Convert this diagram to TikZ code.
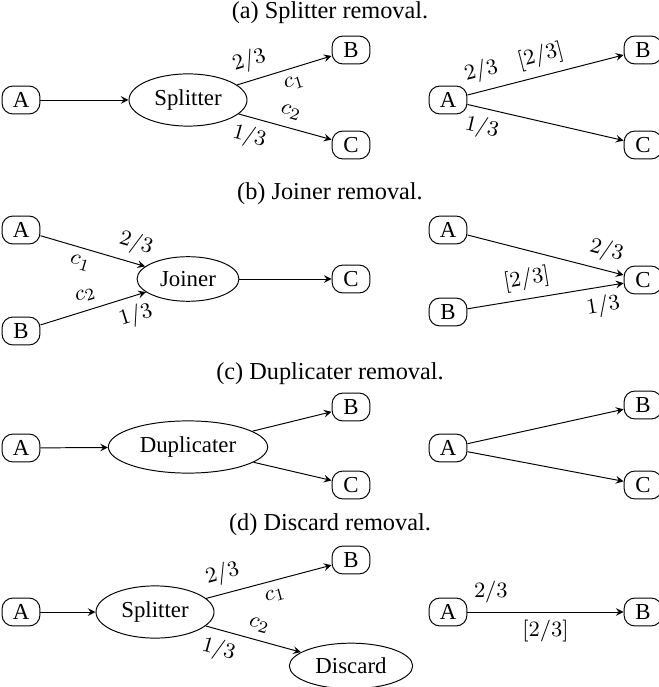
\documentclass[tikz,border=0pt]{standalone}
\usepackage{fontspec}
\setmainfont{Liberation Serif}
\usetikzlibrary{shapes.geometric}

\begin{document}
\begin{tikzpicture}[
    x = 0.4115pt,
    y = -0.4115pt,
    >=stealth,
    font=\fontsize{9.4}{11}\selectfont,
    vertex/.style = {draw, rectangle, rounded corners=4.5pt,
              minimum width=15.6pt, minimum height=11.5pt,
              inner sep=0.5pt},
    unit/.style = {draw, ellipse},
    caption/.style = {font=\fontsize{10}{12}\selectfont},
    ]

\useasboundingbox (0,0) rectangle (659,687);

% (a)
\node[caption] (cap_a) at (330,13) {(a) Splitter removal.};
\node[vertex] (a_A) at (21,100){A};
\node[unit] (a_split) at (188,100){Splitter};
\node[vertex] (a_B) at (351,50){B};
\node[vertex] (a_C) at (351,145){C};
\draw [->] (a_A) -- (a_split);
\draw [->] (a_split) to node [pos=0.19, above, sloped]{$2/3$}
    node [pos=0.56, below, sloped]{$c_1$} (a_B);
\draw [->] (a_split) to node [pos=0.17, below, sloped]{$1/3$}
    node [pos=0.52, above, sloped]{$c_2$} (a_C);

\node[vertex] (ar_A) at (448,100){A};
\node[vertex] (ar_B) at (643,50){B};
\node[vertex] (ar_C) at (643,145){C};
\draw [->] (ar_A) to node [pos=0.12, above, sloped]{$2/3$}
    node [pos=0.5, above, sloped]{$[2/3]$} (ar_B);
\draw [->] (ar_A) to node [pos=0.12, below, sloped]{$1/3$} (ar_C);

% (b)
\node[caption] (cap_b) at (330,194) {(b) Joiner removal.};
\node[vertex] (b_A) at (21,230){A};
\node[vertex] (b_B) at (21,331){B};
\node[unit] (b_join) at (188,279){Joiner};
\node[vertex] (b_C) at (351,279){C};
\draw [->] (b_A) to node [pos=0.86, above, sloped]{$2/3$}
    node [pos=0.42, below, sloped]{$c_1$} (b_join);
\draw [->] (b_B) to node [pos=0.47, above, sloped]{$c_2$}
    node [pos=0.85, below, sloped]{$1/3$} (b_join);
\draw [->] (b_join) -- (b_C);

\node[vertex] (br_A) at (448,230){A};
\node[vertex] (br_B) at (448,312){B};
\node[vertex] (br_C) at (643,280){C};
\draw [->] (br_A) to node [pos=0.86, above, sloped]{$2/3$} (br_C);
\draw [->] (br_B) to node [pos=0.4, above, sloped]{$[2/3]$}
    node [pos=0.85, below, sloped]{$1/3$} (br_C);

% (c)
\node[caption] (cap_c) at (330,374) {(c) Duplicater removal.};
\node[vertex] (c_A) at (21,448){A};
\node[unit] (c_dup) at (188,447){Duplicater};
\node[vertex] (c_B) at (351,407){B};
\node[vertex] (c_C) at (351,485){C};
\draw [->] (c_A) -- (c_dup);
\draw [->] (c_dup) -- (c_B);
\draw [->] (c_dup) -- (c_C);

\node[vertex] (cr_A) at (448,448){A};
\node[vertex] (cr_B) at (643,405){B};
\node[vertex] (cr_C) at (643,485){C};
\draw [->] (cr_A) -- (cr_B);
\draw [->] (cr_A) -- (cr_C);

% (d)
\node[caption] (cap_d) at (330,525) {(d) Discard removal.};
\node[vertex] (d_A) at (21,612){A};
\node[unit] (d_split) at (155,612){Splitter};
\node[vertex] (d_B) at (351,560){B};
\node[unit] (d_disc) at (351,666){Discard};
\draw [->] (d_A) -- (d_split);
\draw [->] (d_split) to node [pos=0.17, above, sloped]{$2/3$}
    node [pos=0.52, below, sloped]{$c_1$} (d_B);
\draw [->] (d_split) to node [pos=0.19, below, sloped]{$1/3$}
    node [pos=0.52, above, sloped]{$c_2$} (d_disc);

\node[vertex] (dr_A) at (448,612){A};
\node[vertex] (dr_B) at (643,612){B};
\draw [->] (dr_A) to node [pos=0.15, above]{$2/3$}
    node [midway, below]{$[2/3]$} (dr_B);

\end{tikzpicture}
\end{document}
